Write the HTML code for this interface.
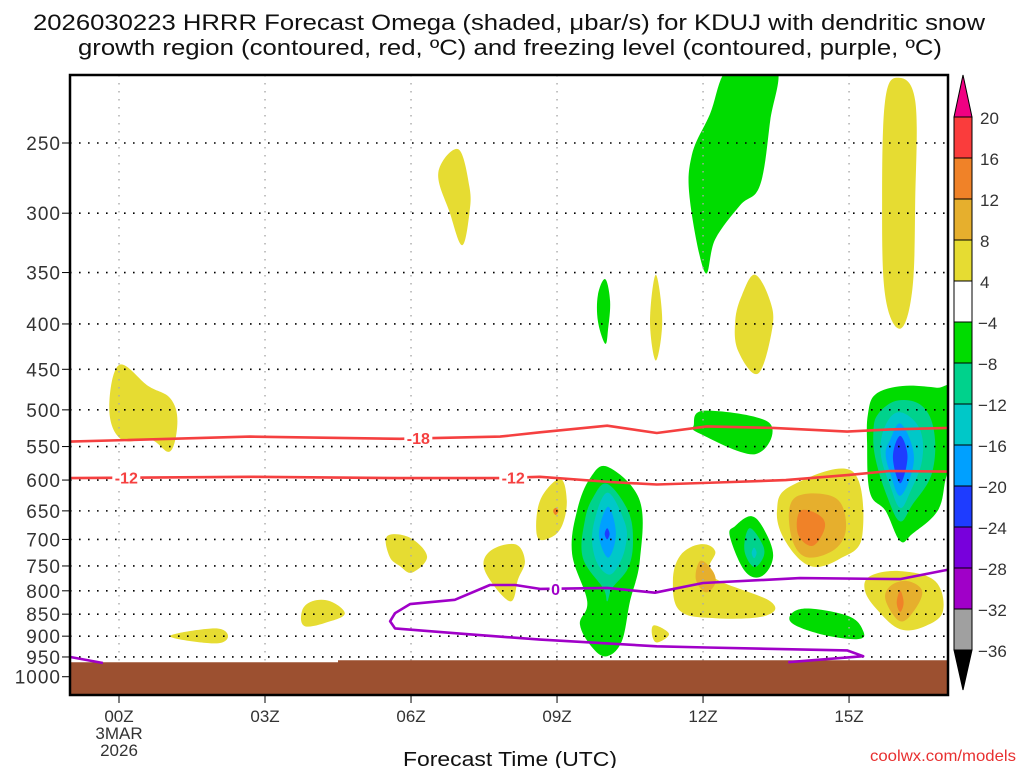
<!DOCTYPE html>
<html><head><meta charset="utf-8"><style>
html,body{margin:0;padding:0;background:#fff;}
svg{display:block;font-family:"Liberation Sans Narrow","Liberation Sans",sans-serif;}
</style></head><body>
<svg id="chart" width="1024" height="768" viewBox="0 0 1024 768" xmlns="http://www.w3.org/2000/svg">
<rect width="1024" height="768" fill="#fff"/>
<text x="33" y="30" font-size="22" textLength="952" lengthAdjust="spacingAndGlyphs" fill="#111">2026030223 HRRR Forecast Omega (shaded, μbar/s) for KDUJ with dendritic snow</text>
<text x="78" y="55" font-size="22" textLength="864" lengthAdjust="spacingAndGlyphs" fill="#111">growth region (contoured, red, ºC) and freezing level (contoured, purple, ºC)</text>
<defs><clipPath id="plotclip"><rect x="70" y="75" width="878" height="620"/></clipPath></defs>
<g id="shades" clip-path="url(#plotclip)"></g>
<g id="grid"></g>
<g id="ground" clip-path="url(#plotclip)"></g>
<g id="contours" clip-path="url(#plotclip)"></g>
<rect x="70" y="75" width="878" height="620" fill="none" stroke="#000" stroke-width="2.5"/>
<g id="yaxis"></g>
<g id="xaxis"></g>
<g id="cbar"></g>
<text x="403" y="766" font-size="20" textLength="214" lengthAdjust="spacingAndGlyphs" fill="#111">Forecast Time (UTC)</text>
<text x="870" y="761" font-size="16" textLength="146" lengthAdjust="spacingAndGlyphs" fill="#e83030">coolwx.com/models</text>
</svg>
<script>
// ---- data ----
const pressureTicks=[250,300,350,400,450,500,550,600,650,700,750,800,850,900,950,1000];
const hourTicks=[0,3,6,9,12,15];
const hourLabels=["00Z","03Z","06Z","09Z","12Z","15Z"];
const cbarLevels=[20,16,12,8,4,-4,-8,-12,-16,-20,-24,-28,-32,-36];
const cbarColors=["#fa3c3c","#f08228","#e6af2d","#e6dc32","#ffffff","#00dc00","#00d28c","#00c8c8","#00a0ff","#1e3cff","#7800dc","#a000c8","#a0a0a0"];
const groundHours=[-1,4.5,4.5,17.1];
const groundPress=[963,963,958,958];
const yellowShapes=[
 [[-0.2,500],[0,445],[0.6,470],[1.05,485],[1.2,515],[1.05,557],[0.65,540],[0.05,540]],
 [[6.97,254],[7.2,280],[7.2,300],[7.05,326],[6.8,300],[6.56,270]],
 [[11.03,352],[11.16,397],[11.03,440],[10.91,397]],
 [[13.07,352],[13.38,377],[13.42,405],[13.13,455],[12.72,429],[12.66,397],[12.8,371]],
 [[16.0,211],[16.36,224],[16.36,290],[16.3,366],[16.05,405],[15.74,371],[15.68,290],[15.74,224]],
 [[13.79,610],[15.06,586],[15.27,694],[14.81,736],[14.2,750],[13.69,703],[13.52,650]],
 [[11.94,709],[12.25,722],[12.18,770],[13.38,822],[13.27,854],[12.25,859],[11.53,843],[11.38,780],[11.53,730]],
 [[15.43,770],[16.05,760],[16.77,780],[16.93,843],[16.56,877],[16.05,884],[15.6,843],[15.33,801]],
 [[9.06,598],[9.2,633],[9.1,676],[8.86,697],[8.59,694],[8.65,633]],
 [[11.0,875],[11.3,895],[11.05,915],[10.95,895]],
 [[5.51,694],[5.98,697],[6.33,732],[6.02,763],[5.77,750],[5.56,732]],
 [[7.62,722],[8.14,709],[8.34,740],[8.2,776],[8.03,822],[7.52,760]],
 [[3.97,822],[4.34,822],[4.64,848],[4.34,866],[3.82,877],[3.76,843]],
 [[1.05,900],[1.97,882],[2.24,900],[1.97,917]]
];
const goldShapes=[
 [[13.89,628],[14.71,628],[14.94,676],[14.71,718],[14.09,732],[13.79,685]],
 [[11.95,740],[12.2,760],[12.25,785],[12.05,803],[11.85,775]],
 [[15.85,790],[16.2,780],[16.5,800],[16.35,840],[16.05,866],[15.75,820]]
];
const orangeShapes=[
 [[14.0,650],[14.4,658],[14.5,680],[14.25,712],[13.95,690]],
 [[16.05,800],[16.12,825],[16.05,845],[15.98,825]],
 [[8.97,645],[9.03,650],[8.97,657],[8.92,650]]
];
const greenShapes=[
 [[12.55,205],[13.5,205],[13.38,236],[13.17,279],[12.76,294],[12.25,321],[12.04,350],[11.73,290],[11.77,258],[12.14,232]],
 [[9.99,356],[10.09,377],[10.05,405],[9.99,421],[9.84,397],[9.84,371]],
 [[12.04,501],[13.36,517],[13.07,561],[11.94,532],[11.81,520]],
 [[10.05,580],[10.7,633],[10.7,740],[10.5,822],[10.33,912],[10.03,948],[9.74,929],[9.47,873],[9.62,822],[9.31,727],[9.41,650],[9.68,597]],
 [[15.55,480],[16.1,470],[16.8,472],[17.1,476],[17.1,560],[16.98,600],[16.82,650],[16.3,690],[16.05,703],[15.75,650],[15.43,620],[15.37,545],[15.39,505]],
 [[13.0,659],[13.27,685],[13.44,732],[13.21,770],[12.86,760],[12.55,694],[12.66,676]],
 [[14.05,838],[14.98,854],[15.29,888],[15.18,907],[14.4,895],[13.79,866]]
];
const tealShapes=[
 [[10.03,606],[10.46,650],[10.56,703],[10.46,754],[10.13,795],[10.03,822],[9.95,795],[9.53,734],[9.57,667],[9.74,628]],
 [[15.6,505],[16.0,488],[16.5,495],[16.75,530],[16.7,590],[16.3,640],[16.05,668],[15.8,630],[15.55,570],[15.5,530]],
 [[12.95,680],[13.2,705],[13.25,730],[13.05,752],[12.85,720]]
];
const cyanShapes=[
 [[10.03,620],[10.4,672],[10.4,715],[10.23,754],[10.03,766],[9.78,734],[9.74,679]],
 [[15.75,520],[16.05,503],[16.45,525],[16.5,570],[16.25,620],[16.05,645],[15.85,610],[15.65,560]],
 [[13.05,715],[13.1,725],[13.05,735],[13.0,725]]
];
const lblueShapes=[
 [[10.05,643],[10.21,690],[10.05,734],[9.86,690]],
 [[15.85,540],[16.05,518],[16.3,550],[16.3,585],[16.05,625],[15.85,590],[15.75,560]]
];
const dblueShapes=[
 [[10.03,680],[10.08,690],[10.03,700],[9.98,690]],
 [[16.05,535],[16.2,565],[16.05,605],[15.9,565]]
];
const m18Hours=[-1.0,2.69,5.77,7.83,8.65,10.03,11.05,12.08,13.44,14.96,15.84,17.1];
const m18Press=[543,536,539,536,530,521,531,522,524,529,526,524];
const m12Hours=[-1.0,2.69,5.77,7.83,8.65,10.09,11.05,12.6,13.7,15.0,15.84,17.1];
const m12Press=[597,595,597,597,595,603,607,603,600,592,586,587];
const zeroHours=[13.75,15.29,14.96,12.08,11.05,8.65,7.0,5.67,5.57,5.67,5.98,6.9,7.62,8.14,8.65,10.03,11.01,12.0,13.99,16.05,17.1];
const zeroPress=[963,948,934,927,924,908,894,882,866,848,828,819,788,788,796,794,804,784,774,776,756];
const zeroLeftHours=[-1.0,-0.33];
const zeroLeftPress=[950,965];

// ---- axes ----
const X=h=>119+h*48.67;
const Y=p=>143+385*Math.log(p/250);
const NS="http://www.w3.org/2000/svg";
function mk(tag,attrs,parent){const e=document.createElementNS(NS,tag);for(const k in attrs)e.setAttribute(k,attrs[k]);parent.appendChild(e);return e;}
function smoothPath(poly){
  const P=poly.map(q=>[X(q[0]),Y(q[1])]);const n=P.length;const t=0.18;
  let d="M"+P[0][0].toFixed(1)+","+P[0][1].toFixed(1);
  for(let i=0;i<n;i++){
    const p0=P[(i-1+n)%n],p1=P[i],p2=P[(i+1)%n],p3=P[(i+2)%n];
    const c1=[p1[0]+(p2[0]-p0[0])*t,p1[1]+(p2[1]-p0[1])*t];
    const c2=[p2[0]-(p3[0]-p1[0])*t,p2[1]-(p3[1]-p1[1])*t];
    d+=" C"+c1[0].toFixed(1)+","+c1[1].toFixed(1)+" "+c2[0].toFixed(1)+","+c2[1].toFixed(1)+" "+p2[0].toFixed(1)+","+p2[1].toFixed(1);
  }
  return d+"Z";
}

const shades=document.getElementById("shades");
function drawSet(set,color,name){set.forEach(poly=>{
  const e=mk("path",{d:smoothPath(poly),fill:color},shades);
  
  
});}
drawSet(yellowShapes,"#e6dc32","omega-4-8");
drawSet(goldShapes,"#e6af2d","omega-8-12");
drawSet(orangeShapes,"#f08228","omega-12-16");
drawSet(greenShapes,"#00dc00","omega-neg4-neg8");
drawSet(tealShapes,"#00d28c","omega-neg8-neg12");
drawSet(cyanShapes,"#00c8c8","omega-neg12-neg16");
drawSet(lblueShapes,"#00a0ff","omega-neg16-neg20");
drawSet(dblueShapes,"#1e3cff","omega-neg20-neg24");

const grid=document.getElementById("grid");
pressureTicks.forEach(p=>{
  const e=mk("line",{x1:70,x2:948,y1:Y(p),y2:Y(p),stroke:"#000","stroke-width":1.6,"stroke-dasharray":"1.6 7.4"},grid);
  
  
});
hourTicks.forEach(h=>{
  const e=mk("line",{x1:X(h),x2:X(h),y1:75,y2:695,stroke:"#aaa","stroke-width":1.4,"stroke-dasharray":"1.5 6.5"},grid);
  
  
});

const gpoly=groundHours.map((h,i)=>[h,groundPress[i]]);
const gp=gpoly.map(q=>X(q[0])+","+Y(q[1])).join(" ")+" "+X(17.1)+",700 "+X(-1)+",700";
const ge=mk("polygon",{points:gp,fill:"#9c5030"},document.getElementById("ground"));



const cg=document.getElementById("contours");
function line(hs,ps,color,name){
  const e=mk("polyline",{points:hs.map((h,i)=>X(h).toFixed(1)+","+Y(ps[i]).toFixed(1)).join(" "),fill:"none",stroke:color,"stroke-width":2.6,"stroke-linejoin":"round"},cg);
  
  
}
line(m18Hours,m18Press,"#f54040","contour-minus18");
line(m12Hours,m12Press,"#f54040","contour-minus12");
line(zeroHours,zeroPress,"#a000c8","freezing-level-contour");
line(zeroLeftHours,zeroLeftPress,"#a000c8","freezing-level-contour-left");
function clabel(h,p,txt,color,name){
  const x=X(h),y=Y(p);
  const r=mk("rect",{x:x-14,y:y-8,width:28,height:16,fill:"#fff"},cg);
  
  
  const t=mk("text",{x:x,y:y+6,"font-size":16,"font-weight":"bold","text-anchor":"middle",fill:color},cg);
  t.textContent=txt;
  
  
}
clabel(6.15,538,"-18","#f54040","label-minus18");
clabel(0.15,596,"-12","#f54040","label-minus12-left");
clabel(8.1,596,"-12","#f54040","label-minus12-right");
(function(){const x=X(8.97),y=Y(796);
  const r=mk("rect",{x:x-6,y:y-8,width:12,height:16,fill:"#fff"},cg);
  
  
  const t=mk("text",{x:x,y:y+6,"font-size":16,"font-weight":"bold","text-anchor":"middle",fill:"#a000c8"},cg);
  t.textContent="0";
  
  
})();

const ya=document.getElementById("yaxis");
pressureTicks.forEach(p=>{
  const t=mk("text",{x:61,y:Y(p)+7,"font-size":19,"text-anchor":"end",fill:"#333","letter-spacing":"1"},ya);
  t.textContent=p;
  
  
  const l=mk("line",{x1:62,x2:70,y1:Y(p),y2:Y(p),stroke:"#000","stroke-width":1},ya);
  
  
});
const xa=document.getElementById("xaxis");
hourTicks.forEach((h,i)=>{
  const l=mk("line",{x1:X(h),x2:X(h),y1:695,y2:703,stroke:"#000","stroke-width":1},xa);
  
  
  const t=mk("text",{x:X(h),y:722,"font-size":17,"text-anchor":"middle",fill:"#333"},xa);
  t.textContent=hourLabels[i];
  
  
});
[["3MAR",739],["2026",756]].forEach(d=>{
  const t=mk("text",{x:X(0),y:d[1],"font-size":17,"text-anchor":"middle",fill:"#333"},xa);
  t.textContent=d[0];
  
  
});

const cb=document.getElementById("cbar");
const cTop=117,cStep=(650-117)/13;
const up=mk("polygon",{points:"954,"+cTop+" 972,"+cTop+" 963,75",fill:"#f00082",stroke:"#000","stroke-width":1},cb);


cbarColors.forEach((c,i)=>{
  const r=mk("rect",{x:954,y:cTop+i*cStep,width:18,height:cStep,fill:c,stroke:"#000","stroke-width":1},cb);
  
  
});
const dn=mk("polygon",{points:"954,650 972,650 963,690",fill:"#000",stroke:"#000","stroke-width":1},cb);


cbarLevels.forEach((v,i)=>{
  const t=mk("text",{x:v<0?978:980,y:cTop+i*cStep+7,"font-size":17,fill:"#333"},cb);
  t.textContent=v<0?"\u2212"+(-v):String(v);
  
  
});
</script>
</body></html>
